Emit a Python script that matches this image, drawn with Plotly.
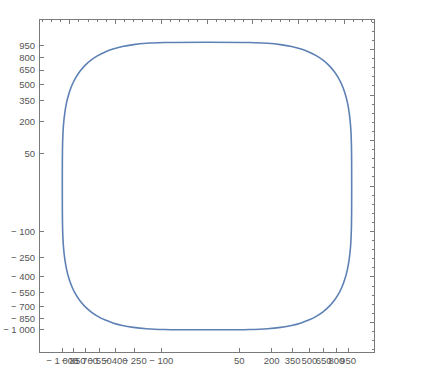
import numpy as np
import plotly.graph_objects as go

# One quadrant of the curve (data units): x from 1000 down to 0
quad_x = [1000, 996, 985, 966, 940, 906, 866, 819, 766, 707, 643, 574, 500, 423, 342, 259, 174, 87, 0]
quad_y = [0, 87, 174, 259, 342, 423, 500, 574, 643, 707, 766, 819, 866, 906, 940, 966, 985, 996, 1000]

# Labelled tick values (both axes)
tick_values = [-1000, -850, -700, -550, -400, -250, -100, 50, 200, 350, 500, 650, 800, 950]


def fmt(v):
    s = f"{abs(v):,}".replace(",", " ")
    return ("\u2212 " + s) if v < 0 else s


tick_text = [fmt(v) for v in tick_values]


def ssqrt(a):
    a = np.asarray(a, dtype=float)
    return np.sign(a) * np.sqrt(np.abs(a))


qx = np.array(quad_x, dtype=float)
qy = np.array(quad_y, dtype=float)
xs = np.concatenate([qx, -qx[::-1][1:], -qx[1:], qx[::-1][1:]])
ys = np.concatenate([qy, qy[::-1][1:], -qy[1:], -qy[::-1][1:]])
u, v = ssqrt(xs), ssqrt(ys)

fig = go.Figure()
fig.add_trace(go.Scatter(
    x=u, y=v, mode="lines",
    line=dict(color="#5E81B5", width=1.6, shape="spline", smoothing=1),
    hoverinfo="skip", showlegend=False,
))
# transparent copy so that the top/right frame axes get drawn
fig.add_trace(go.Scatter(
    x=u, y=v, mode="lines", xaxis="x2", yaxis="y2",
    line=dict(color="rgba(0,0,0,0)", width=0),
    hoverinfo="skip", showlegend=False,
))

RNG = [-36.5, 36.5]
frame = "#7a7a7a"
lab_font = dict(family="Liberation Sans, Arial, sans-serif", size=9.5, color="#555555")

common = dict(range=RNG, showgrid=False, zeroline=False, showline=True,
              linecolor=frame, linewidth=1, ticks="inside", tickcolor=frame,
              fixedrange=True, automargin=False)

fig.update_layout(
    width=430, height=377,
    margin=dict(l=40, r=56, t=20, b=25),
    paper_bgcolor="white", plot_bgcolor="white",
    xaxis=dict(**common, tickmode="array", tickvals=ssqrt(tick_values), ticktext=tick_text,
               ticklen=4, tickangle=0, tickfont=lab_font, side="bottom"),
    yaxis=dict(**common, tickmode="array", tickvals=ssqrt(tick_values), ticktext=tick_text,
               ticklen=4, tickfont=lab_font, side="left", ticklabelstandoff=2),
    xaxis2=dict(**common, overlaying="x", anchor="y2", side="top", tickmode="linear",
                tick0=0, dtick=10, ticklen=4, showticklabels=False,
                minor=dict(dtick=2, tick0=0, ticklen=2, ticks="inside", tickcolor=frame)),
    yaxis2=dict(**common, overlaying="y", anchor="x2", side="right", tickmode="linear",
                tick0=0, dtick=10, ticklen=4, showticklabels=False,
                minor=dict(dtick=2, tick0=0, ticklen=2, ticks="inside", tickcolor=frame)),
)

fig.write_html("out.html")
